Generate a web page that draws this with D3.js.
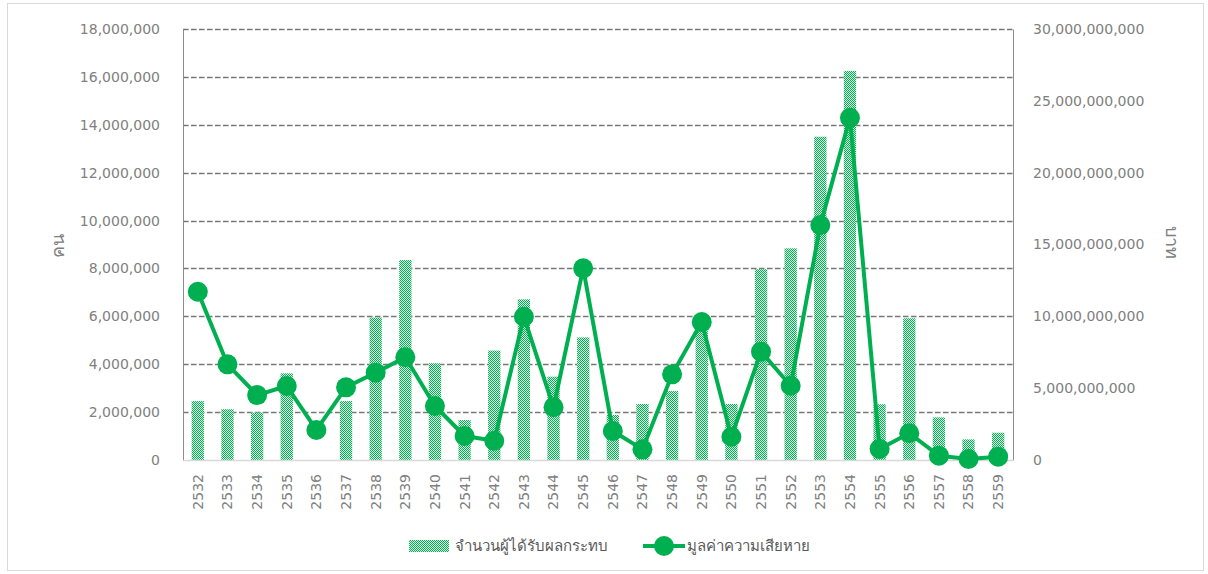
<!DOCTYPE html>
<html>
<head>
<meta charset="utf-8">
<script src="https://cdn.jsdelivr.net/npm/d3@7"></script>
<style>
  body { margin: 0; background: #fff; }
  text { font-family: Tahoma, "DejaVu Sans", "Noto Sans", sans-serif; }
</style>
</head>
<body>
<div id="chart"></div>
<script>
// years (พ.ศ.)
var years = ["2532","2533","2534","2535","2536","2537","2538","2539","2540","2541",
  "2542","2543","2544","2545","2546","2547","2548","2549","2550","2551",
  "2552","2553","2554","2555","2556","2557","2558","2559"];

// affected people (คน)
var affected = [2460000, 2120000, 1980000, 3620000, 0, 2460000, 5950000, 8350000, 4040000, 1670000,
  4570000, 6710000, 3480000, 5120000, 1880000, 2340000, 2880000, 5400000, 2340000, 7970000,
  8840000, 13500000, 16250000, 2330000, 5920000, 1780000, 860000, 1140000];

// damage value (บาท)
var damage = [11710000000, 6660000000, 4520000000, 5150000000, 2090000000, 5060000000, 6080000000, 7150000000, 3760000000, 1670000000,
  1340000000, 9970000000, 3670000000, 13340000000, 2020000000, 740000000, 5960000000, 9600000000, 1620000000, 7540000000,
  5170000000, 16350000000, 23820000000, 770000000, 1860000000, 300000000, 70000000, 230000000];

var leftTicks = d3.range(0, 18000001, 2000000);
var rightTicks = d3.range(0, 30000000001, 5000000000);

var W = 1208, H = 574;
var m = {left: 183, right: 195, top: 29, bottom: 114};
var green = "#00b050";
var fmt = d3.format(",");

var svg = d3.select("#chart").append("svg")
    .attr("width", W)
    .attr("height", H);

// pattern for bars (green lattice with white dots)
var pat = svg.append("defs").append("pattern")
    .attr("id", "dots")
    .attr("width", 4)
    .attr("height", 4)
    .attr("patternUnits", "userSpaceOnUse");
pat.append("rect").attr("width", 4).attr("height", 4).attr("fill", "#d6f3e1");
[[0,0],[2,0],[1,1],[3,1],[0,2],[2,2],[1,3],[3,3]].forEach(function(p) {
  pat.append("rect").attr("x", p[0]).attr("y", p[1]).attr("width", 1).attr("height", 1).attr("fill", green);
});
pat.append("rect").attr("x", 1).attr("y", 0).attr("width", 1).attr("height", 1).attr("fill", "#fff");
pat.append("rect").attr("x", 3).attr("y", 2).attr("width", 1).attr("height", 1).attr("fill", "#fff");

// chart frame
svg.append("rect")
    .attr("x", 7.5).attr("y", 3.5)
    .attr("width", 1196).attr("height", 567)
    .attr("fill", "none")
    .attr("stroke", "#d9d9d9");

var x = d3.scaleBand()
    .domain(years)
    .range([m.left, W - m.right])
    .paddingInner(0.585)
    .paddingOuter(0.2925);

var yL = d3.scaleLinear().domain([0, 18000000]).range([H - m.bottom, m.top]);
var yR = d3.scaleLinear().domain([0, 30000000000]).range([H - m.bottom, m.top]);

// gridlines
svg.append("g").selectAll("line")
    .data(leftTicks.slice(1))
    .enter().append("line")
    .attr("x1", m.left).attr("x2", W - m.right)
    .attr("y1", function(d) { return Math.round(yL(d)) + 0.5; })
    .attr("y2", function(d) { return Math.round(yL(d)) + 0.5; })
    .attr("stroke", "#777")
    .attr("stroke-width", 1.4)
    .attr("stroke-dasharray", "5.5,2.5");

// bars
svg.append("g").selectAll("rect")
    .data(affected)
    .enter().append("rect")
    .attr("x", function(d, i) { return x(years[i]); })
    .attr("width", x.bandwidth())
    .attr("y", function(d) { return yL(d); })
    .attr("height", function(d) { return yL(0) - yL(d); })
    .attr("fill", "url(#dots)");

// axes
var axL = svg.append("g")
    .attr("transform", "translate(" + m.left + ",0)")
    .call(d3.axisLeft(yL).tickValues(leftTicks).tickFormat(fmt).tickSize(0).tickPadding(23));
var axR = svg.append("g")
    .attr("transform", "translate(" + (W - m.right) + ",0)")
    .call(d3.axisRight(yR).tickValues(rightTicks).tickFormat(fmt).tickSize(0).tickPadding(20));
[axL, axR].forEach(function(a) {
  a.select(".domain").attr("stroke", "#8c8c8c");
  a.selectAll("text").attr("fill", "#808080").style("font-size", "14px");
});

var axB = svg.append("g")
    .attr("transform", "translate(0," + (H - m.bottom) + ")")
    .call(d3.axisBottom(x).tickSize(0).tickPadding(0));
axB.select(".domain").attr("stroke", "#d9d9d9").attr("stroke-width", 1.5);
axB.selectAll("text")
    .attr("fill", "#808080")
    .style("font-size", "14px")
    .attr("text-anchor", "end")
    .attr("dy", "0.35em")
    .attr("transform", "translate(0,14) rotate(-90)");

// line
var cx = function(d, i) { return x(years[i]) + x.bandwidth() / 2; };
svg.append("path")
    .datum(damage)
    .attr("fill", "none")
    .attr("stroke", green)
    .attr("stroke-width", 4)
    .attr("stroke-linejoin", "round")
    .attr("d", d3.line().x(cx).y(function(d) { return yR(d); }));

svg.append("g").selectAll("circle")
    .data(damage)
    .enter().append("circle")
    .attr("cx", cx)
    .attr("cy", function(d) { return yR(d); })
    .attr("r", 10)
    .attr("fill", green);

// axis titles
svg.append("text")
    .attr("transform", "translate(58,246) rotate(-90)")
    .attr("text-anchor", "middle")
    .attr("dy", "0.35em")
    .attr("fill", "#808080")
    .style("font-size", "18px")
    .text("คน");
svg.append("text")
    .attr("transform", "translate(1172,242) rotate(90)")
    .attr("text-anchor", "middle")
    .attr("dy", "0.35em")
    .attr("fill", "#808080")
    .style("font-size", "18px")
    .text("บาท");

// legend
var lg = svg.append("g").attr("transform", "translate(0,546)");
lg.append("rect")
    .attr("x", 409).attr("y", -6)
    .attr("width", 40).attr("height", 12)
    .attr("fill", "url(#dots)");
lg.append("text")
    .attr("x", 455).attr("dy", "0.35em")
    .attr("fill", "#595959")
    .style("font-size", "15px")
    .text("จำนวนผู้ได้รับผลกระทบ");
lg.append("line")
    .attr("x1", 643).attr("x2", 685)
    .attr("stroke", green).attr("stroke-width", 4);
lg.append("circle")
    .attr("cx", 664).attr("r", 10).attr("fill", green);
lg.append("text")
    .attr("x", 687).attr("dy", "0.35em")
    .attr("fill", "#595959")
    .style("font-size", "15px")
    .text("มูลค่าความเสียหาย");
</script>
</body>
</html>
